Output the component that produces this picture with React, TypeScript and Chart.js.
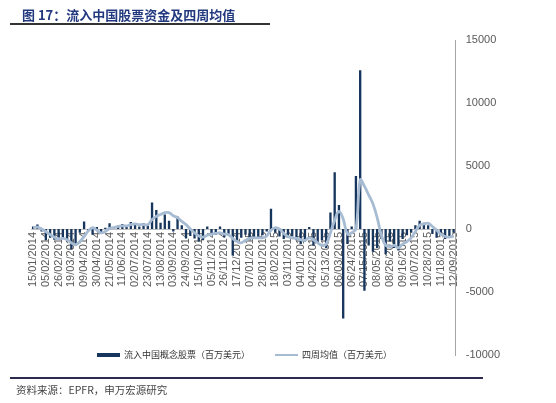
import { useEffect, useRef } from "react"
import Chart from "chart.js/auto"

// tick labels, one every 3 weeks (as printed in the source)
const tickLabels = [
  "15/01/2014", "05/02/2014", "26/02/2014", "19/03/2014", "09/04/2014", "30/04/2014",
  "21/05/2014", "11/06/2014", "02/07/2014", "23/07/2014", "13/08/2014", "03/09/2014",
  "24/09/2014", "15/10/2014", "05/11/2014", "26/11/2014", "17/12/2014", "07/01/2015",
  "28/01/2015", "18/02/2015", "03/11/2015", "04/01/2015", "04/22/2015", "05/13/2015",
  "06/03/2015", "06/24/2015", "07/15/2015", "08/05/2015", "08/26/2015", "09/16/2015",
  "10/07/2015", "10/28/2015", "11/18/2015", "12/09/2015",
]

// weekly flows into China equity funds (USD mn)
const weeklyFlows = [
  200, 350, -200, -900, -700, -850, -650, -800, -950, -1600,
  -1200, -300, 600, -150, -450, 150, -250, 100, 450, 150,
  250, 400, 200, 550, 350, 200, 450, 300, 2100, 1500,
  500, 1150, 650, -200, 1000, 300, -750, -550, -750, -1000,
  -900, 200, -350, -450, 200, -650, -500, -2100, -900, -700,
  -450, -900, -800, -650, -500, -200, 1600, -300, -600, -800,
  -700, -600, -900, -1200, -1000, 150, -1300, -1100, -900, -1500,
  1300, 4500, 1900, -7100, -1200, 200, 4200, 12600, -4900, -1300,
  -1800, -1500, -800, -2000, -1000, -1500, -1700, -800, -500, -300,
  300, 650, 500, 300, -400, -700, -500, -800, -600, -300,
]

// four-week average as drawn (USD mn)
const fourWeekAvg = [
  100, 150, 0, -200, -450, -650, -800, -750, -850, -1100,
  -1250, -1000, -600, -150, 100, -100, -300, -200, 50, 100,
  200, 250, 250, 350, 400, 350, 350, 350, 750, 1000,
  1150, 1300, 1300, 1050, 900, 600, 350, 0, -300, -550,
  -650, -500, -400, -350, -300, -400, -450, -750, -1000, -1100,
  -900, -750, -700, -700, -700, -550, -100, 100, 0, -350,
  -600, -700, -750, -850, -900, -700, -850, -1100, -1300, -1200,
  -300, 700, 1400, 800, -400, -300, 0, 3900, 3400, 2700,
  2000, 900, -500, -1300, -1400, -1300, -1500, -1200, -1000, -700,
  -200, 300, 400, 450, 200, -100, -400, -600, -650, -550,
]

const yTicks = [-10000, -5000, 0, 5000, 10000, 15000]

const barColor = "#17365d"
const lineColor = "#a7bcd3"
const cjk = '"Noto Sans CJK SC", "Liberation Sans", sans-serif'

const FlowChart: React.FC = () => {
  const canvasRef = useRef<HTMLCanvasElement | null>(null)
  const chartInstance = useRef<Chart | null>(null)

  useEffect(() => {
    if (!canvasRef.current) return
    const ctx = canvasRef.current.getContext("2d")
    if (!ctx) return
    if (chartInstance.current) chartInstance.current.destroy()

    const last = tickLabels.length - 1
    const categories = tickLabels.flatMap((l, i) => (i < last ? [l, "", ""] : [l]))

    chartInstance.current = new Chart(ctx, {
      type: "bar",
      data: {
        labels: categories,
        datasets: [
          {
            type: "line",
            label: "四周均值（百万美元）",
            data: fourWeekAvg,
            borderColor: lineColor,
            borderWidth: 2.8,
            pointRadius: 0,
            tension: 0.4,
            order: 0,
          },
          {
            type: "bar",
            label: "流入中国概念股票（百万美元）",
            data: weeklyFlows,
            backgroundColor: barColor,
            barPercentage: 0.55,
            categoryPercentage: 1,
            order: 1,
          },
        ],
      },
      options: {
        responsive: false,
        animation: false,
        layout: { padding: { left: 31, top: 40, bottom: 48, right: 46 } },
        plugins: { legend: { display: false }, tooltip: { enabled: false } },
        scales: {
          x: {
            position: { y: 0 },
            grid: { display: false, drawTicks: false },
            border: { display: true, color: "#bfbfbf" },
            ticks: {
              autoSkip: false,
              minRotation: 90,
              maxRotation: 90,
              padding: 3,
              color: "#595959",
              font: { family: "Liberation Sans", size: 11 },
            },
          },
          y: {
            position: "right",
            min: -10000,
            max: 15000,
            afterBuildTicks: (scale) => {
              scale.ticks = yTicks.map((v) => ({ value: v }))
            },
            grid: { display: false, drawTicks: false },
            border: { display: true, color: "#a6a6a6" },
            ticks: {
              padding: 10,
              color: "#595959",
              font: { family: "Liberation Sans", size: 11 },
              callback: (v) => String(v),
            },
          },
        },
      },
    })

    return () => {
      if (chartInstance.current) {
        chartInstance.current.destroy()
        chartInstance.current = null
      }
    }
  }, [])

  return <canvas ref={canvasRef} width={556} height={403} style={{ position: "absolute", left: 0, top: 0 }} />
}

const App: React.FC = () => {
  return (
    <div style={{ position: "absolute", left: 0, top: 0, width: 556, height: 403, background: "#fff", overflow: "hidden" }}>
      <FlowChart />
      <div style={{ position: "absolute", left: 22, top: 5, fontFamily: cjk, fontWeight: 700, fontSize: 13, color: "#22397f", whiteSpace: "nowrap" }}>
        图 17：流入中国股票资金及四周均值
      </div>
      <div style={{ position: "absolute", left: 10, top: 23, width: 260, height: 1.5, background: "#333" }} />

      <div style={{ position: "absolute", left: 97, top: 353, width: 23, height: 4, background: barColor }} />
      <div style={{ position: "absolute", left: 124, top: 348, fontFamily: cjk, fontSize: 9, color: "#333", whiteSpace: "nowrap", lineHeight: "14px" }}>
        流入中国概念股票（百万美元）
      </div>
      <div style={{ position: "absolute", left: 275, top: 354, width: 23, height: 2, background: lineColor }} />
      <div style={{ position: "absolute", left: 302, top: 348, fontFamily: cjk, fontSize: 9, color: "#333", whiteSpace: "nowrap", lineHeight: "14px" }}>
        四周均值（百万美元）
      </div>

      <div style={{ position: "absolute", left: 10, top: 377, width: 473, height: 2, background: "#2b2b50" }} />
      <div style={{ position: "absolute", left: 16, top: 383, fontFamily: cjk, fontSize: 10.5, color: "#444", whiteSpace: "nowrap", lineHeight: "14px" }}>
        资料来源：EPFR，申万宏源研究
      </div>
    </div>
  )
}

export default App
